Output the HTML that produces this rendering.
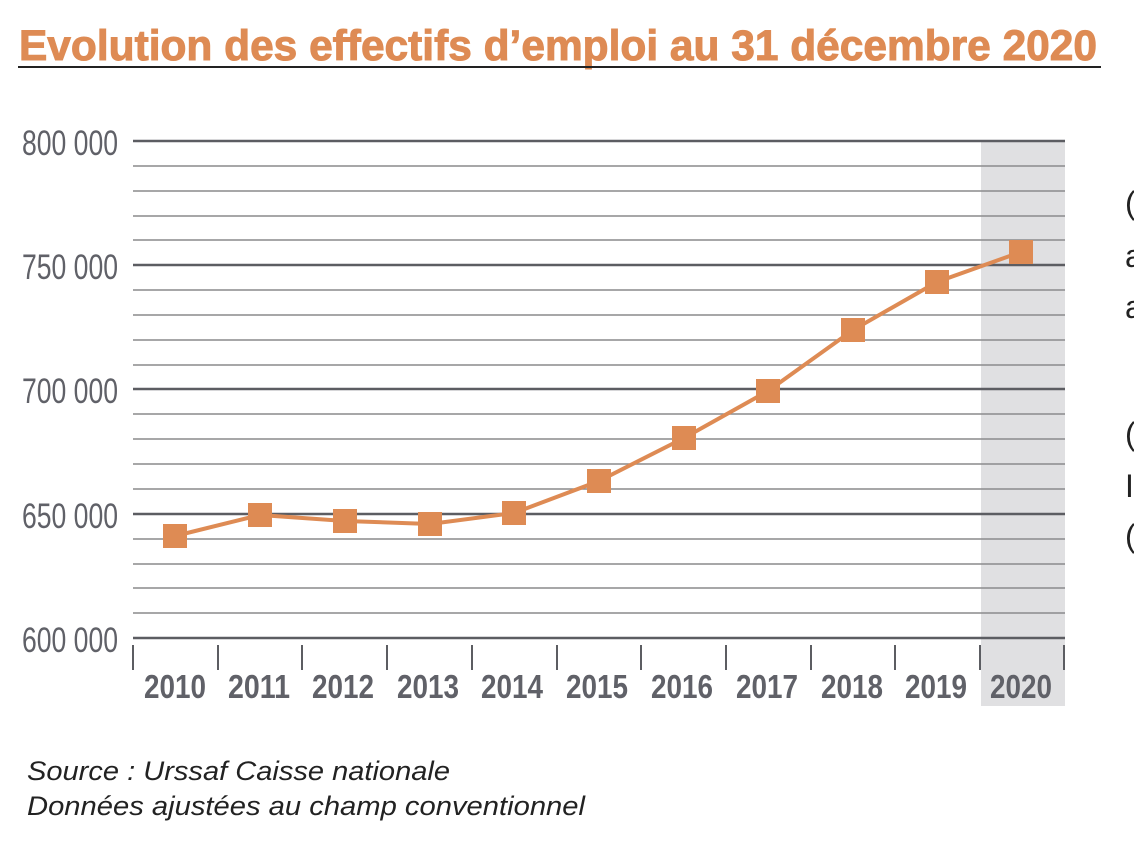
<!DOCTYPE html>
<html><head><meta charset="utf-8"><style>
html,body{margin:0;padding:0;background:#fff;width:1134px;height:860px;overflow:hidden}
svg{display:block}
</style></head><body>
<svg width="1134" height="860" viewBox="0 0 1134 860" xmlns="http://www.w3.org/2000/svg" font-family="Liberation Sans, sans-serif">
<text x="19" y="60" font-size="43" font-weight="bold" fill="#de8b54" stroke="#de8b54" stroke-width="1" textLength="1078" lengthAdjust="spacingAndGlyphs">Evolution des effectifs d’emploi au 31 décembre 2020</text>
<rect x="18" y="66" width="1083" height="2" fill="#222"/>
<rect x="981" y="141" width="84" height="565" fill="#e0e0e2"/>
<g stroke="#8a8a8c" stroke-width="1.6">
<line x1="133" x2="1065" y1="166" y2="166"/><line x1="133" x2="1065" y1="191" y2="191"/><line x1="133" x2="1065" y1="216" y2="216"/><line x1="133" x2="1065" y1="240" y2="240"/>
<line x1="133" x2="1065" y1="290" y2="290"/><line x1="133" x2="1065" y1="315" y2="315"/><line x1="133" x2="1065" y1="340" y2="340"/><line x1="133" x2="1065" y1="365" y2="365"/>
<line x1="133" x2="1065" y1="414" y2="414"/><line x1="133" x2="1065" y1="439" y2="439"/><line x1="133" x2="1065" y1="464" y2="464"/><line x1="133" x2="1065" y1="489" y2="489"/>
<line x1="133" x2="1065" y1="539" y2="539"/><line x1="133" x2="1065" y1="564" y2="564"/><line x1="133" x2="1065" y1="588" y2="588"/><line x1="133" x2="1065" y1="613" y2="613"/>
</g>
<g stroke="#5c5d62" stroke-width="2.6">
<line x1="133" x2="1065" y1="141" y2="141"/><line x1="133" x2="1065" y1="265" y2="265"/><line x1="133" x2="1065" y1="389" y2="389"/><line x1="133" x2="1065" y1="514" y2="514"/><line x1="133" x2="1065" y1="638" y2="638"/>
</g>
<g stroke="#5c5d62" stroke-width="2">
<line x1="133" x2="133" y1="645" y2="670"/><line x1="218" x2="218" y1="645" y2="670"/><line x1="302" x2="302" y1="645" y2="670"/><line x1="387" x2="387" y1="645" y2="670"/><line x1="472" x2="472" y1="645" y2="670"/><line x1="557" x2="557" y1="645" y2="670"/><line x1="641" x2="641" y1="645" y2="670"/><line x1="726" x2="726" y1="645" y2="670"/><line x1="811" x2="811" y1="645" y2="670"/><line x1="895" x2="895" y1="645" y2="670"/><line x1="980" x2="980" y1="645" y2="670"/><line x1="1064" x2="1064" y1="645" y2="670"/>
</g>
<g fill="#606168" font-size="35" text-anchor="end">
<text x="118" y="155" textLength="96" lengthAdjust="spacingAndGlyphs">800 000</text>
<text x="118" y="279" textLength="96" lengthAdjust="spacingAndGlyphs">750 000</text>
<text x="118" y="403" textLength="96" lengthAdjust="spacingAndGlyphs">700 000</text>
<text x="118" y="528" textLength="96" lengthAdjust="spacingAndGlyphs">650 000</text>
<text x="118" y="652" textLength="96" lengthAdjust="spacingAndGlyphs">600 000</text>
</g>
<g fill="#606168" font-size="33" font-weight="bold" text-anchor="middle">
<text x="175" y="698" textLength="62" lengthAdjust="spacingAndGlyphs">2010</text><text x="259" y="698" textLength="62" lengthAdjust="spacingAndGlyphs">2011</text><text x="343" y="698" textLength="62" lengthAdjust="spacingAndGlyphs">2012</text><text x="428" y="698" textLength="62" lengthAdjust="spacingAndGlyphs">2013</text><text x="512" y="698" textLength="62" lengthAdjust="spacingAndGlyphs">2014</text><text x="597" y="698" textLength="62" lengthAdjust="spacingAndGlyphs">2015</text><text x="682" y="698" textLength="62" lengthAdjust="spacingAndGlyphs">2016</text><text x="767" y="698" textLength="62" lengthAdjust="spacingAndGlyphs">2017</text><text x="852" y="698" textLength="62" lengthAdjust="spacingAndGlyphs">2018</text><text x="936" y="698" textLength="62" lengthAdjust="spacingAndGlyphs">2019</text><text x="1021" y="698" textLength="62" lengthAdjust="spacingAndGlyphs">2020</text>
</g>
<polyline fill="none" stroke="#de8b54" stroke-width="4" points="175,536 260,515 345,521 430,524 514,513 599,481 684,438 768,391 853,330 937,282 1021,252"/>
<g fill="#de8b54">
<rect x="163" y="524" width="24" height="24"/><rect x="248" y="503" width="24" height="24"/><rect x="333" y="509" width="24" height="24"/><rect x="418" y="512" width="24" height="24"/><rect x="502" y="501" width="24" height="24"/><rect x="587" y="469" width="24" height="24"/><rect x="672" y="426" width="24" height="24"/><rect x="756" y="379" width="24" height="24"/><rect x="841" y="318" width="24" height="24"/><rect x="925" y="270" width="24" height="24"/><rect x="1009" y="240" width="24" height="24"/>
</g>
<g fill="#222" font-size="32">
<text x="1125" y="214">(</text><text x="1125" y="267">a</text><text x="1125" y="318">a</text><text x="1125" y="445">(</text><text x="1125" y="497">I</text><text x="1125" y="547">(</text>
</g>
<g fill="#222" font-size="27" font-style="italic">
<text x="27" y="780" textLength="423" lengthAdjust="spacingAndGlyphs">Source : Urssaf Caisse nationale</text>
<text x="27" y="815" textLength="558" lengthAdjust="spacingAndGlyphs">Données ajustées au champ conventionnel</text>
</g>
</svg>
</body></html>
